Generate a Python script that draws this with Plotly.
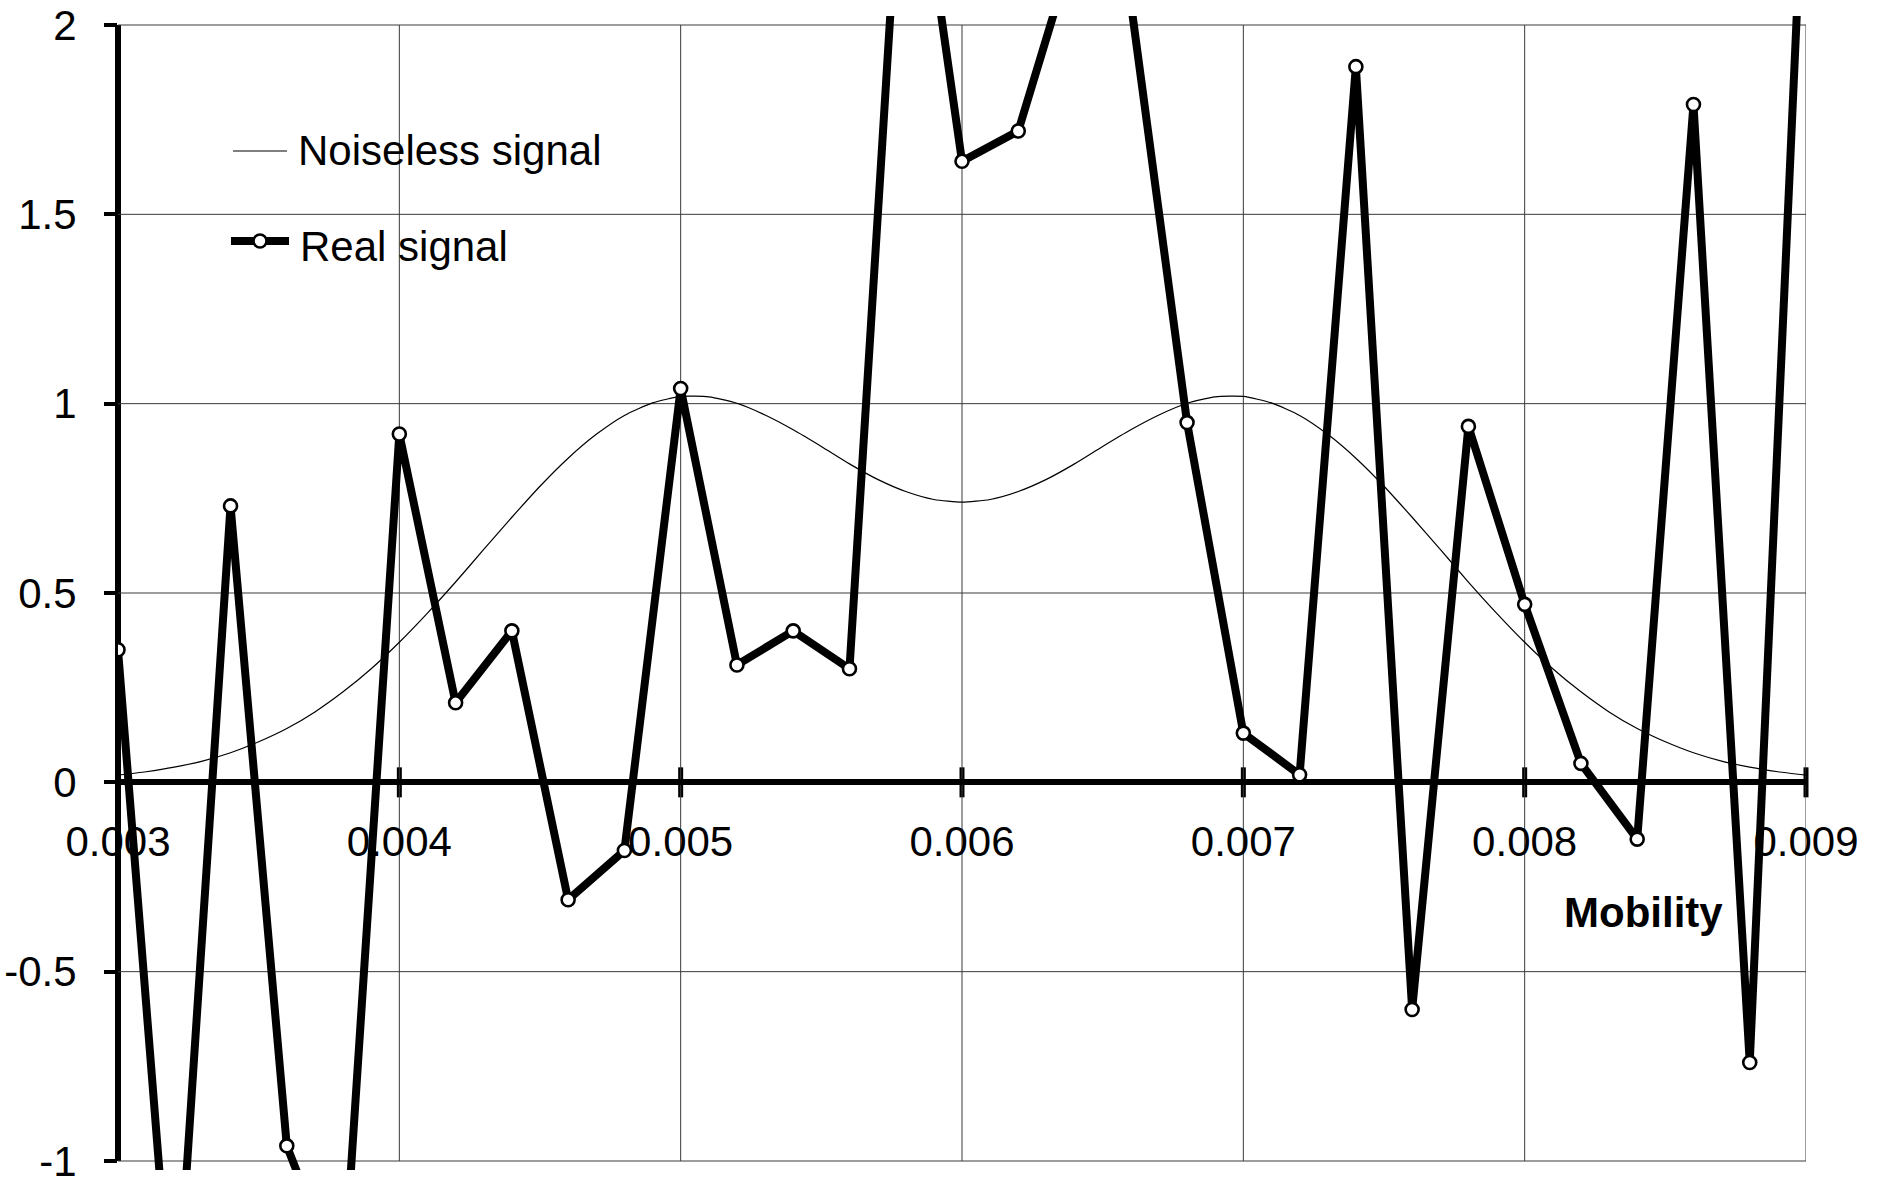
import plotly.graph_objects as go

# ---------------- data ----------------
mobility = [0.0030, 0.0032, 0.0034, 0.0036, 0.0038, 0.0040, 0.0042, 0.0044,
            0.0046, 0.0048, 0.0050, 0.0052, 0.0054, 0.0056, 0.0058, 0.0060,
            0.0062, 0.0064, 0.0066, 0.0068, 0.0070, 0.0072, 0.0074, 0.0076,
            0.0078, 0.0080, 0.0082, 0.0084, 0.0086, 0.0088, 0.0090]
real_signal = [0.35, -1.52, 0.73, -0.96, -1.34, 0.92, 0.21, 0.40,
               -0.31, -0.18, 1.04, 0.31, 0.40, 0.30, 2.68, 1.64,
               1.72, 2.21, 2.06, 0.95, 0.13, 0.02, 1.89, -0.60,
               0.94, 0.47, 0.05, -0.15, 1.79, -0.74, 2.57]

smooth_x = [0.0030, 0.0031, 0.0032, 0.0033, 0.0034, 0.0035, 0.0036, 0.0037,
            0.0038, 0.0039, 0.0040, 0.0041, 0.0042, 0.0043, 0.0044, 0.0045,
            0.0046, 0.0047, 0.0048, 0.0049, 0.0050, 0.0051, 0.0052, 0.0053,
            0.0054, 0.0055, 0.0056, 0.0057, 0.0058, 0.0059, 0.0060, 0.0061,
            0.0062, 0.0063, 0.0064, 0.0065, 0.0066, 0.0067, 0.0068, 0.0069,
            0.0070, 0.0071, 0.0072, 0.0073, 0.0074, 0.0075, 0.0076, 0.0077,
            0.0078, 0.0079, 0.0080, 0.0081, 0.0082, 0.0083, 0.0084, 0.0085,
            0.0086, 0.0087, 0.0088, 0.0089, 0.0090]
noiseless = [0.019, 0.028, 0.040, 0.056, 0.078, 0.107, 0.142, 0.186,
             0.239, 0.300, 0.370, 0.447, 0.529, 0.615, 0.700, 0.782,
             0.856, 0.919, 0.969, 1.002, 1.019, 1.018, 1.001, 0.970,
             0.931, 0.887, 0.841, 0.800, 0.768, 0.747, 0.740, 0.747,
             0.768, 0.800, 0.841, 0.887, 0.931, 0.970, 1.001, 1.018,
             1.019, 1.002, 0.969, 0.919, 0.856, 0.782, 0.700, 0.615,
             0.529, 0.447, 0.370, 0.300, 0.239, 0.186, 0.142, 0.107,
             0.078, 0.056, 0.040, 0.028, 0.019]

x_ticks = [0.003, 0.004, 0.005, 0.006, 0.007, 0.008, 0.009]
x_tick_labels = ["0.003", "0.004", "0.005", "0.006", "0.007", "0.008", "0.009"]
y_ticks = [-1, -0.5, 0, 0.5, 1, 1.5, 2]
y_tick_labels = ["-1", "-0.5", "0", "0.5", "1", "1.5", "2"]

# ---------------- geometry ----------------
W, H = 1885, 1180
L, R, T, B = 118, 1806, 16, 1170          # plot area in pixels
PW, PH = R - L, B - T
Y_LO, Y_HI = -1.0, 2.0
PAD_PX = 9                                 # lines may run slightly past the frame
unit_px = (PH - 2 * PAD_PX) / (Y_HI - Y_LO)
pad = PAD_PX / unit_px
y_range = [Y_LO - pad, Y_HI + pad]
x_range = [x_ticks[0], x_ticks[-1]]
zero_frac = (0 - y_range[0]) / (y_range[1] - y_range[0])


def fx(px):
    return (px - L) / PW


def fy(py):
    return (B - py) / PH


def xfrac(v):
    return (v - x_range[0]) / (x_range[1] - x_range[0])


FONT = "Liberation Sans, Arial, sans-serif"
FS = 42
GRID = "#3a3a3a"

fig = go.Figure()

fig.add_trace(go.Scatter(
    x=smooth_x, y=noiseless, mode="lines", name="Noiseless signal",
    line=dict(color="black", width=1.2, shape="spline", smoothing=0.6),
    showlegend=False, hoverinfo="skip"))

fig.add_trace(go.Scatter(
    x=mobility, y=real_signal, mode="lines+markers", name="Real signal",
    line=dict(color="black", width=8),
    marker=dict(symbol="circle", size=13, color="white",
                line=dict(color="black", width=2.6)),
    showlegend=False))

shapes = []
# grid (frame) lines
for yv in y_ticks:
    if yv == 0:
        continue
    shapes.append(dict(type="line", xref="x", yref="y", x0=x_ticks[0], x1=x_ticks[-1],
                       y0=yv, y1=yv, line=dict(color=GRID, width=1), layer="below"))
for xv in x_ticks[1:]:
    shapes.append(dict(type="line", xref="x", yref="y", x0=xv, x1=xv,
                       y0=Y_LO, y1=Y_HI, line=dict(color=GRID, width=1), layer="below"))
# legend background
shapes.append(dict(type="rect", xref="x domain", yref="y domain",
                   x0=fx(168), x1=fx(661), y0=fy(290), y1=fy(98),
                   fillcolor="white", line=dict(width=0), layer="below"))
# y axis line (paper x so it is not clipped at the plot edge)
shapes.append(dict(type="line", xref="paper", yref="y", x0=0, x1=0,
                   y0=Y_LO, y1=Y_HI, line=dict(color="black", width=6), layer="below"))
# crossing ticks on the x axis
for xv in x_ticks:
    shapes.append(dict(type="line", xref="paper", yref="paper", x0=xfrac(xv), x1=xfrac(xv),
                       ysizemode="pixel", yanchor=zero_frac, y0=-15, y1=15,
                       line=dict(color="black", width=5), layer="below"))
# legend samples
shapes.append(dict(type="line", xref="x domain", yref="y domain",
                   x0=fx(233), x1=fx(287), y0=fy(151), y1=fy(151),
                   line=dict(color="black", width=1.2), layer="above"))
shapes.append(dict(type="line", xref="x domain", yref="y domain",
                   x0=fx(231), x1=fx(289), y0=fy(241), y1=fy(241),
                   line=dict(color="black", width=8), layer="above"))
shapes.append(dict(type="circle", xref="x domain", yref="y domain",
                   xsizemode="pixel", ysizemode="pixel",
                   xanchor=fx(260), yanchor=fy(241), x0=-6.5, x1=6.5, y0=-6.5, y1=6.5,
                   fillcolor="white", line=dict(color="black", width=2.6), layer="above"))

annotations = [
    dict(text="Noiseless signal", xref="paper", yref="paper", x=fx(296), y=fy(150),
         xanchor="left", yanchor="middle", showarrow=False,
         font=dict(family=FONT, size=FS, color="black")),
    dict(text="Real signal", xref="paper", yref="paper", x=fx(298), y=fy(247),
         xanchor="left", yanchor="middle", showarrow=False,
         font=dict(family=FONT, size=FS, color="black")),
    dict(text="<b>Mobility</b>", xref="paper", yref="paper", x=fx(1643), y=fy(912),
         xanchor="center", yanchor="middle", showarrow=False,
         font=dict(family=FONT, size=FS, color="black")),
]

fig.update_layout(
    template="none",
    width=W, height=H,
    margin=dict(l=L, r=W - R, t=T, b=H - B, pad=0, autoexpand=False),
    paper_bgcolor="white", plot_bgcolor="white",
    showlegend=False,
    font=dict(family=FONT, size=FS, color="black"),
    shapes=shapes, annotations=annotations,
    xaxis=dict(range=x_range, tickvals=x_ticks, ticktext=x_tick_labels,
               anchor="free", position=zero_frac, showgrid=False, zeroline=False,
               showline=True, linewidth=6, linecolor="black", automargin=False,
               ticks="", ticklabelstandoff=20, layer="below traces",
               ticklabeloverflow="allow",
               tickfont=dict(family=FONT, size=FS, color="black")),
    yaxis=dict(range=y_range, tickvals=y_ticks, ticktext=y_tick_labels,
               showgrid=False, zeroline=False, showline=False, automargin=False,
               ticks="outside", ticklen=13, tickwidth=4, tickcolor="black",
               ticklabelstandoff=19, layer="below traces",
               ticklabeloverflow="allow",
               tickfont=dict(family=FONT, size=FS, color="black")),
)

fig.write_html("out.html", config={"displayModeBar": False},
               post_script="document.body.style.margin='0';document.body.style.overflow='hidden';")
